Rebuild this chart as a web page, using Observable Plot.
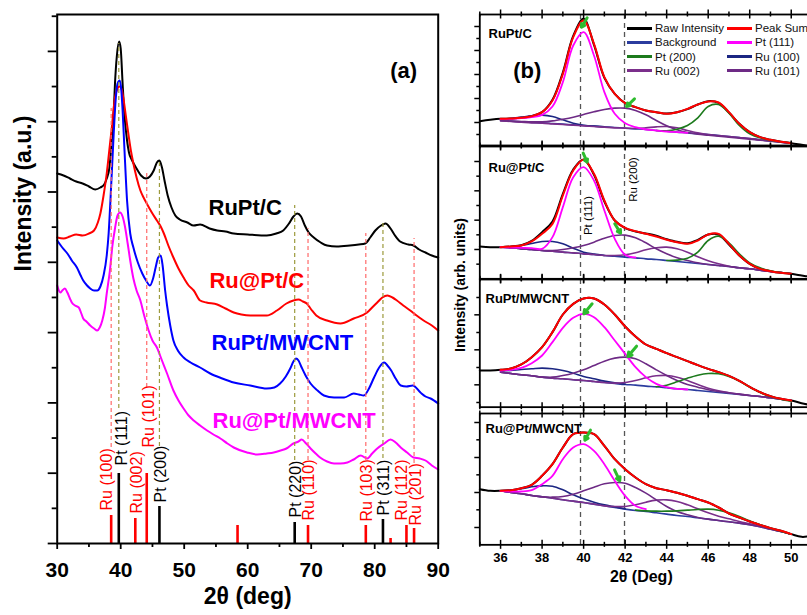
<!DOCTYPE html>
<html>
<head>
<meta charset="utf-8">
<script src="https://cdn.jsdelivr.net/npm/d3@7"></script>
<script src="https://cdn.jsdelivr.net/npm/@observablehq/plot@0.6"></script>
<style>
  html, body { margin: 0; padding: 0; background: #fff; overflow: hidden; }
  #wrap { position: relative; width: 807px; height: 615px; overflow: hidden; background: #fff;
          font-family: "Liberation Sans", Arial, Helvetica, sans-serif; }
  #wrap svg { position: absolute; overflow: visible; max-width: none; }
  .leg { position: absolute; display: flex; align-items: center; font-size: 11.5px; color: #111;
         white-space: nowrap; height: 14px; }
  .leg i { display: inline-block; width: 25px; height: 2.5px; margin-right: 3px; }
</style>
</head>
<body>
<div id="wrap"></div>
<script>
const FONT = '"Liberation Sans", Arial, Helvetica, sans-serif';
const _ = null;

// ================= Panel (a) data : 2θ (deg) vs intensity (a.u.) =================
const sampleNames = ["RuPt/C", "Ru@Pt/C", "RuPt/MWCNT", "Ru@Pt/MWCNT"];

const aBlackX = [30,31,32,33,34,35,36,36.8,37.4,37.8,38.2,38.6,38.9,39.1,39.4,39.75,40.0,40.3,40.6,41.0,41.3,41.8,42.5,43.2,44.0,44.6,45.2,45.7,46.1,46.5,46.9,47.4,48.0,48.6,49.3,50.5,51.5,52.5,54,55.2,56.5,57.8,60,63,64.5,65.6,66.5,67.2,67.8,68.4,69.0,69.6,70.4,71.5,72.5,74,76.1,77.5,78.5,79.3,80.1,81.0,81.7,82.5,83.2,84.0,85.3,86.1,87.0,88,89,90];
const aBlackY = [370,368,365,362,360,357,354,356,359,365,375,403,431,460,488,502,495,460,428,403,391,383,375,368,365,367,373,381,383,376,363,348,336,328,324,321,318,319,315,313,312,310,309,308,310,313,320,327,330,327,318,311,306,301,298,297,298,299,300,306,313,318,320,315,308,302,299,298,294,291,288,286];

const aRedX = [30,31,32,33,34,35,35.8,36.4,36.8,37.3,37.8,38.2,38.6,39.1,39.5,39.8,40.1,40.4,40.8,41.2,41.6,42.0,42.5,43.1,43.6,44.1,44.9,45.7,46.3,46.8,47.5,48.3,49.1,49.9,50.7,51.5,52.5,53.5,55.2,56.5,57.8,59,60.4,62,63,64.6,66.1,67.2,68.0,68.7,69.3,70.0,70.8,72.5,74.6,76.7,78.8,79.6,80.4,81.2,82.0,82.8,83.5,84.5,85.6,86.6,87.7,89,90];
const aRedY = [306,305,307,309,308,310,313,321,330,348,370,393,416,446,455,457,455,446,428,410,393,380,366,353,346,340,331,323,317,310,298,286,275,266,258,253,243,241,239,235,231,229,228,228,228,233,240,243,244,242,240,234,228,223,220,225,231,236,241,246,248,246,243,238,233,228,223,218,213];

const aBlueX = [30,30.8,31.6,32.3,33.1,33.7,34.1,34.7,35.2,35.8,36.3,36.8,37.3,37.8,38.1,38.5,38.9,39.2,39.5,39.85,40.1,40.3,40.6,41.0,41.5,42.0,42.7,43.4,44.0,44.6,45.1,45.5,45.9,46.3,46.6,47.0,47.3,47.8,48.3,49.0,49.9,51,52.5,54.1,56,57.8,60.4,63,64.2,65.1,66.0,66.7,67.2,67.6,68.0,68.5,69.2,69.9,71,72.0,73.6,75.2,76.7,77.5,78.3,79.1,79.9,80.7,81.5,82.0,82.6,83.3,84.1,85,86.0,87.2,88,88.8,90];
const aBlueY = [303,296,290,283,276,268,263,258,255,253,253,257,268,288,310,358,410,443,460,463,453,433,393,343,310,296,281,270,263,258,265,276,286,288,278,253,238,218,203,193,186,181,176,170,165,161,158,155,156,160,167,175,182,185,183,176,167,160,153,148,146,146,150,149,148,155,166,176,181,178,173,165,158,157,158,151,147,145,140];

const aMagX = [30,30.5,30.8,31.2,31.6,32.0,32.3,32.8,33.4,33.8,34.1,34.6,35.2,35.8,36.3,36.7,37.1,37.5,37.8,38.3,38.7,39.1,39.5,39.9,40.3,40.7,41.1,41.5,42.0,42.5,43.1,43.7,44.4,45.0,45.7,46.5,47.3,48.3,49.1,49.9,50.7,51.5,52.5,53.6,54.6,55.7,56.8,57.8,59.9,61.5,63,64.1,65.2,66.1,67.2,68.0,68.5,69.2,69.9,70.7,71.4,72.5,73.6,74.6,75.7,76.7,77.8,78.8,79.6,80.4,81.5,82.5,83.3,84.1,85.1,86.1,87.1,88.0,89,90];
const aMagY = [258,251,253,255,251,245,241,238,236,230,225,222,218,215,213,216,223,235,250,273,298,315,328,331,327,316,300,283,265,253,243,228,213,203,196,183,170,153,143,135,128,123,118,113,109,105,100,96,91,89,90,91,93,95,100,102,104,100,95,90,86,82,80,80,81,84,88,85,90,95,100,104,101,96,91,86,85,83,78,74];

// reference patterns (sticks)
const stickPos   = [38.5, 39.7, 42.3, 44.1, 46.1, 58.4, 67.4, 69.5, 78.6, 81.3, 82.5, 85.0, 86.2];
const stickH     = [28,   70,   25,   70,   37,   18,   21,   18,   18,   24,   5,    18,   15];
const stickPhase = ["Ru","Pt","Ru","Ru","Pt","Ru","Pt","Ru","Ru","Pt","Ru","Ru","Ru"];
const stickLabel     = ["Ru (100)","Pt (111)","Ru (002)","Ru (101)","Pt (200)","Pt (220)","Ru (110)","Ru (103)","Pt (311)","Ru (112)","Ru (201)"];
const stickLabelX    = [37.87, 40.13, 42.49, 44.38, 46.27, 67.53, 69.57, 78.7, 81.38, 84.22, 86.5];
const stickLabelBase = [33, 78, 30, 96, 41, 26, 23, 22, 28, 23, 18];

// dashed guide lines
const dashX      = [38.5, 44.1, 69.5, 78.6, 86.2, 39.7, 46.1, 67.4, 81.3];
const dashTop    = [435, 371, 315, 310, 305, 500, 383, 338, 323];
const dashBottom = [96, 156, 83, 83, 80, 135, 97, 83, 85];
const dashPhase  = ["Ru","Ru","Ru","Ru","Ru","Pt","Pt","Pt","Pt"];

const aTicksMajor = [30, 40, 50, 60, 70, 80, 90];
const aTicksMinor = [35, 45, 55, 65, 75, 85];

// ================= Panel (b) data : fitted 2θ 35–51 =================
const bGrid = [36,36.5,37,37.5,38,38.5,39,39.5,40,40.5,41,41.5,42,42.5,43,43.5,44,44.5,45,45.5,46,46.5,47,47.5,48,48.5,49,49.5,50];
const bRawGrid = [35,35.5,36,36.5,37,37.5,38,38.5,39,39.5,40,40.5,41,41.5,42,42.5,43,43.5,44,44.5,45,45.5,46,46.5,47,47.5,48,48.5,49,49.5,50,50.5,51];
const bTicksMajor = [36, 38, 40, 42, 44, 46, 48, 50];
const bTicksMinor = [35, 37, 39, 41, 43, 45, 47, 49, 51];
const bDash = [39.85, 41.97];
const legendNames = ["Raw Intensity","Peak Sum","Background","Pt (111)","Pt (200)","Ru (100)","Ru (002)","Ru (101)"];

// RuPt/C
const b1Raw   = [76,80,83,84,86,91,103,140,222,332,383,305,206,158,130,118,108,103,99,103,112,126,136,131,102,68,43,28,20,14,10,5,0];
const b1Sum   = [83,84,86,91,103,138,218,328,378,308,208,158,130,118,108,103,98,103,113,126,135,132,103,68,43,28,20,14,10];
const b1Bg    = [78,76,74,72,71,69,67,65,63,61,59,57,55,53,51,48,46,43,41,38,36,33,30,27,24,20,17,13,10];
const b1Pt111 = [82,83,85,88,95,120,193,303,343,273,163,98,70,58,51,48,45,43,41,_,_,_,_,_,_,_,_,_,_];
const b1Ru100 = [81,84,88,92,94,90,80,70,64,61,59,_,_,_,_,_,_,_,_,_,_,_,_,_,_,_,_,_,_];
const b1Ru101 = [78,76,75,74,74,77,82,88,96,104,111,115,115,108,95,78,62,50,42,37,34,31,28,25,22,19,16,13,10];
const b1Ru002 = [77,75,73,71,70,68,66,64,62,60,58,56,55,54,56,59,60,56,48,41,36,33,30,27,24,20,17,13,10];
const b1Pt200 = [_,_,_,_,_,_,_,_,_,_,_,_,_,_,_,48,47,52,63,86,120,126,100,63,38,26,19,14,10];
// Ru@Pt/C
const b2Raw   = [97,95,95,97,101,114,140,172,255,328,358,312,232,175,152,142,136,129,119,111,107,117,133,133,103,70,45,30,23,18,15,10,5];
const b2Sum   = [95,97,100,112,135,165,250,325,357,315,235,175,153,143,135,127,117,110,105,115,133,135,105,70,45,30,23,18,15];
const b2Bg    = [95,93,90,88,85,83,80,78,75,73,70,68,65,63,60,58,55,52,49,46,43,40,37,33,30,26,22,19,15];
const b2Pt111 = [95,94,93,92,90,125,215,305,335,295,205,120,72,64,_,_,_,_,_,_,_,_,_,_,_,_,_,_,_];
const b2Ru100 = [95,96,100,106,112,112,105,92,80,74,70,_,_,_,_,_,_,_,_,_,_,_,_,_,_,_,_,_,_];
const b2Ru101 = [95,93,90,88,85,85,88,93,100,110,122,130,131,123,108,90,75,63,55,48,43,40,37,33,30,26,22,19,15];
const b2Ru002 = [95,93,90,88,85,83,80,78,75,73,70,70,72,78,87,93,95,90,80,66,54,45,38,33,30,26,22,19,15];
const b2Pt200 = [_,_,_,_,_,_,_,_,_,_,_,_,_,_,_,_,55,56,62,80,115,128,108,75,48,33,24,19,15];
// RuPt/MWCNT
const b3Raw   = [110,110,112,116,128,150,180,225,278,310,326,326,308,278,242,212,188,175,162,150,138,126,115,105,94,79,61,45,33,25,20,12,5];
const b3Sum   = [112,116,128,150,180,225,278,310,326,326,308,278,242,212,188,175,162,150,138,126,115,105,94,79,61,45,33,25,20];
const b3Bg    = [105,101,97,94,90,87,85,82,80,77,74,71,68,66,63,61,58,55,53,50,47,44,41,38,35,32,28,24,20];
const b3Pt111 = [110,112,118,132,155,195,238,268,280,270,240,200,160,120,90,70,60,55,53,_,_,_,_,_,_,_,_,_,_];
const b3Ru100 = [108,110,113,115,117,115,110,102,92,85,78,73,69,_,_,_,_,_,_,_,_,_,_,_,_,_,_,_,_];
const b3Ru101 = [105,101,97,94,90,90,95,102,112,125,138,147,150,145,130,112,95,80,68,60,52,47,43,39,35,32,28,24,20];
const b3Ru002 = [105,101,97,94,90,87,85,82,80,77,74,72,74,80,88,94,95,90,80,68,57,49,43,39,35,32,28,24,20];
const b3Pt200 = [_,_,_,_,_,_,_,_,_,_,_,_,_,_,_,61,66,76,87,96,101,100,92,78,60,44,32,24,18];
// Ru@Pt/MWCNT
const b4Raw   = [167,162,162,164,170,180,207,242,292,332,337,332,297,257,227,202,182,170,164,156,147,137,127,112,94,82,70,60,50,42,32,24,27];
const b4Sum   = [162,164,170,180,207,242,292,332,337,332,297,257,227,202,182,170,164,156,147,137,127,112,94,82,70,60,50,42,32];
const b4Bg    = [162,157,153,148,144,140,135,131,127,122,117,112,107,103,100,96,92,88,85,81,77,73,69,65,60,54,47,40,32];
const b4Pt111 = [162,160,160,164,182,207,257,292,302,282,242,192,147,117,107,_,_,_,_,_,_,_,_,_,_,_,_,_,_];
const b4Ru100 = [162,164,168,174,177,176,165,150,138,128,120,114,108,_,_,_,_,_,_,_,_,_,_,_,_,_,_,_,_];
const b4Ru101 = [162,157,153,148,144,143,145,152,162,173,183,187,185,172,155,135,115,100,90,82,77,73,69,65,60,54,47,40,32];
const b4Ru002 = [162,157,153,148,144,140,135,131,127,122,117,115,115,120,128,134,135,130,120,108,96,86,78,70,63,56,48,40,32];
const b4Pt200 = [_,_,_,_,_,_,_,_,_,_,_,_,_,104,102,101,101,102,104,106,107,104,96,85,72,60,50,41,32];

// green arrows marking peak positions (x1,y1 -> x2,y2)
const arrowsB = [
  [{x1:40.17,y1:386,x2:39.9,y2:358},{x1:42.45,y1:143,x2:42.07,y2:120}],
  [{x1:39.98,y1:377,x2:40.17,y2:350},{x1:41.5,y1:165,x2:41.78,y2:137}],
  [{x1:40.41,y1:310,x2:40.01,y2:280},{x1:42.55,y1:183,x2:42.13,y2:152}],
  [{x1:40.33,y1:344,x2:40.06,y2:314},{x1:41.49,y1:225,x2:41.74,y2:192}]
];

// ================= drawing =================
const wrap = document.getElementById("wrap");
const pts = (xs, ys) => xs.map((x, i) => ({x, y: ys[i]}));
function place(el, left, top) {
  el.style.position = "absolute";
  el.style.left = left + "px";
  el.style.top = top + "px";
  wrap.appendChild(el);
}

// ---------- Panel (a) ----------
const phaseColor = {Ru: "#ff0000", Pt: "#000000"};
const dashColor = {Ru: "#ff6a6a", Pt: "#9c9a3c"};
const aColors = ["#000000", "#ff0000", "#0000ff", "#ff00ff"];
const aW = 450, aH = 615, aML = 56.7, aMR = 12.3, aMT = 14, aMB = 72;
const aFH = aH - aMT - aMB; // 529
const sticks = stickPos.map((x, i) => ({x, h: stickH[i], c: phaseColor[stickPhase[i]]}));
const labels = stickLabel.map((t, i) => ({t, x: stickLabelX[i], y: stickLabelBase[i], c: t.startsWith("Ru") ? "#ff0000" : "#000000"}));
const dashes = dashX.map((x, i) => ({x, y1: dashBottom[i], y2: dashTop[i], c: dashColor[dashPhase[i]]}));
const nameAnno = [
  {t: sampleNames[0], x: 53.83, y: 336, c: aColors[0]},
  {t: sampleNames[1], x: 53.98, y: 263, c: aColors[1]},
  {t: sampleNames[2], x: 54.30, y: 201, c: aColors[2]},
  {t: sampleNames[3], x: 54.46, y: 123, c: aColors[3]}
];
const aSeries = [[aBlackX, aBlackY], [aRedX, aRedY], [aBlueX, aBlueY], [aMagX, aMagY]];

const plotA = Plot.plot({
  width: aW, height: aH, marginLeft: aML, marginRight: aMR, marginTop: aMT, marginBottom: aMB,
  style: {fontFamily: FONT, background: "transparent", overflow: "visible"},
  x: {domain: [30, 90], axis: null},
  y: {domain: [0, aFH], axis: null},
  color: {type: "identity"},
  marks: [
    Plot.ruleX(sticks, {x: "x", y1: () => 0, y2: "h", stroke: "c", strokeWidth: 2.6}),
    ...aSeries.map(([xs, ys], i) => Plot.line(pts(xs, ys), {x: "x", y: "y", stroke: aColors[i], strokeWidth: 2, curve: "monotone-x"})),
    Plot.ruleX(dashes, {x: "x", y1: "y1", y2: "y2", stroke: "c", strokeWidth: 1.2, strokeDasharray: "4,3"}),
    Plot.text(labels, {x: "x", y: "y", text: "t", fill: "c", rotate: -90, textAnchor: "start", fontSize: 16}),
    Plot.text(nameAnno, {x: "x", y: "y", text: "t", fill: "c", textAnchor: "start", fontSize: 22, fontWeight: "bold"}),
    Plot.frame({stroke: "#000", strokeWidth: 2}),
    Plot.axisY({ticks: d3.range(0, aFH, 70.3), tickSize: 9, tickFormat: () => "", strokeWidth: 1.8, label: null}),
    Plot.axisY({ticks: d3.range(35.15, aFH, 70.3), tickSize: 5, tickFormat: () => "", strokeWidth: 1.8, label: null}),
    Plot.axisX({ticks: aTicksMajor, tickSize: 6, tickPadding: 12.5, fontSize: 21, fontWeight: "bold", strokeWidth: 1.8, label: null, tickFormat: d => String(d)}),
    Plot.axisX({ticks: aTicksMinor, tickSize: 4, tickFormat: () => "", strokeWidth: 1.8, label: null}),
    Plot.text(["Intensity (a.u.)"], {frameAnchor: "left", dx: -33.5, dy: -7.5, rotate: -90, text: d => d, fontSize: 23, fontWeight: "bold"}),
    Plot.text(["2θ (deg)"], {frameAnchor: "bottom", dy: 60, text: d => d, fontSize: 23, fontWeight: "bold"}),
    Plot.text(["(a)"], {frameAnchor: "top-left", dx: 333, dy: 48, text: d => d, fontSize: 22, fontWeight: "bold"})
  ]
});
place(plotA, 0, 0);

// ---------- Panel (b) ----------
const bC = {raw: "#000000", sum: "#ff0000", bg: "#2b3c9e", pt111: "#ff00ff", pt200: "#1c7a1c",
            ru100: "#1b2682", ru002: "#7b2f8b", ru101: "#6d2a85"};
const legendColors = [bC.raw, bC.sum, bC.bg, bC.pt111, bC.pt200, bC.ru100, bC.ru002, bC.ru101];
const bW = 362, bML = 29.3, bMR = 0.5;
const bFW = bW - bML - bMR;
const panelsB = [
  {name: sampleNames[0], raw: b1Raw, sum: b1Sum, bg: b1Bg, pt111: b1Pt111, ru100: b1Ru100, ru101: b1Ru101, ru002: b1Ru002, pt200: b1Pt200,
   dom: 396, top: 14, maj: [72,144,216,288,360], min: [36,108,180,252,324], ldx: 8.7, ldy: 14.3},
  {name: sampleNames[1], raw: b2Raw, sum: b2Sum, bg: b2Bg, pt111: b2Pt111, ru100: b2Ru100, ru101: b2Ru101, ru002: b2Ru002, pt200: b2Pt200,
   dom: 400, top: 145, maj: [88,176,264,352], min: [44,132,220,308], ldx: 8.7, ldy: 17},
  {name: sampleNames[2], raw: b3Raw, sum: b3Sum, bg: b3Bg, pt111: b3Pt111, ru100: b3Ru100, ru101: b3Ru101, ru002: b3Ru002, pt200: b3Pt200,
   dom: 383, top: 279, maj: [67,172,277], min: [14,119,224,329], ldx: 5.7, ldy: 14.3},
  {name: sampleNames[3], raw: b4Raw, sum: b4Sum, bg: b4Bg, pt111: b4Pt111, ru100: b4Ru100, ru101: b4Ru101, ru002: b4Ru002, pt200: b4Pt200,
   dom: 394, top: 412.7, maj: [52,157,262,367], min: [105,210,315], ldx: 5.7, ldy: 10.6}
];

const lineB = (xs, ys, stroke, sw) => Plot.line(pts(xs, ys), {x: "x", y: "y", stroke, strokeWidth: sw, curve: "catmull-rom"});

panelsB.forEach((p, idx) => {
  const mt = 6, mb = idx === 3 ? 56 : 6;
  const fh = p.dom / 3;
  const H = mt + fh + mb;
  const crossX = (vals, L) => [
    Plot.tickX(vals, {x: d => d, insetTop: fh - L, insetBottom: -L, stroke: "#000", strokeWidth: 1.5}),
    Plot.tickX(vals, {x: d => d, insetTop: -L, insetBottom: fh - L, stroke: "#000", strokeWidth: 1.5})
  ];
  const leftY = (vals, L) => Plot.tickY(vals, {y: d => d, insetLeft: -L, insetRight: bFW, stroke: "#000", strokeWidth: 1.5});
  const marks = [
    Plot.ruleX(bDash, {x: d => d, stroke: "#555", strokeWidth: 1.3, strokeDasharray: "5,4"}),
    lineB(bRawGrid, p.raw, bC.raw, 2),
    lineB(bGrid, p.bg, bC.bg, 1.6),
    lineB(bGrid, p.ru100, bC.ru100, 1.6),
    lineB(bGrid, p.ru002, bC.ru002, 1.6),
    lineB(bGrid, p.ru101, bC.ru101, 1.6),
    lineB(bGrid, p.pt200, bC.pt200, 1.6),
    lineB(bGrid, p.pt111, bC.pt111, 1.8),
    lineB(bGrid, p.sum, bC.sum, 2),
    Plot.arrow(arrowsB[idx], {x1: "x1", y1: "y1", x2: "x2", y2: "y2", stroke: "#2dbb2d", strokeWidth: 3, headLength: 7}),
    Plot.frame({stroke: "#000", strokeWidth: 1.8}),
    ...crossX(bTicksMajor, 4.5),
    ...crossX(bTicksMinor, 2.5),
    leftY(p.maj, 5),
    leftY(p.min, 3),
    Plot.text([p.name], {frameAnchor: "top-left", dx: p.ldx, dy: p.ldy, text: d => d, textAnchor: "start", fontSize: 13, fontWeight: "bold"})
  ];
  if (idx === 0) {
    marks.push(Plot.text(["(b)"], {frameAnchor: "top-left", dx: 33.4, dy: 48, text: d => d, fontSize: 22, fontWeight: "bold"}));
  }
  if (idx === 1) {
    marks.push(Plot.text([{t: "Pt (111)", x: 40.24, y: 190}, {t: "Ru (200)", x: 42.40, y: 298}],
      {x: "x", y: "y", text: "t", rotate: -90, fontSize: 11.5}));
  }
  if (idx === 3) {
    marks.push(Plot.axisX({ticks: bTicksMajor, tickSize: 0, tickPadding: 8, fontSize: 13, fontWeight: "bold", label: null, tickFormat: d => String(d)}));
    marks.push(Plot.text(["2θ (Deg)"], {frameAnchor: "bottom", dx: -4.6, dy: 37, text: d => d, fontSize: 16, fontWeight: "bold"}));
  }
  const svg = Plot.plot({
    width: bW, height: H, marginLeft: bML, marginRight: bMR, marginTop: mt, marginBottom: mb,
    style: {fontFamily: FONT, background: "transparent", overflow: "visible"},
    x: {domain: [35, 51], axis: null},
    y: {domain: [0, p.dom], axis: null},
    marks
  });
  place(svg, 450, p.top - mt);
});

// legend of panel (b)
legendNames.forEach((n, i) => {
  const col = i % 2, row = Math.floor(i / 2);
  const div = document.createElement("div");
  div.className = "leg";
  div.style.left = (627 + col * 100) + "px";
  div.style.top = (28.3 + row * 14.1 - 7) + "px";
  const sw = document.createElement("i");
  sw.style.background = legendColors[i];
  const sp = document.createElement("span");
  sp.textContent = n;
  div.appendChild(sw); div.appendChild(sp);
  wrap.appendChild(div);
});

// y title of panel (b)
const yt = document.createElement("div");
yt.textContent = "Intensity (arb. units)";
Object.assign(yt.style, {position: "absolute", left: "460px", top: "285px", transform: "translate(-50%,-50%) rotate(-90deg)",
  fontSize: "14px", fontWeight: "bold", whiteSpace: "nowrap", color: "#000"});
wrap.appendChild(yt);
</script>
</body>
</html>
